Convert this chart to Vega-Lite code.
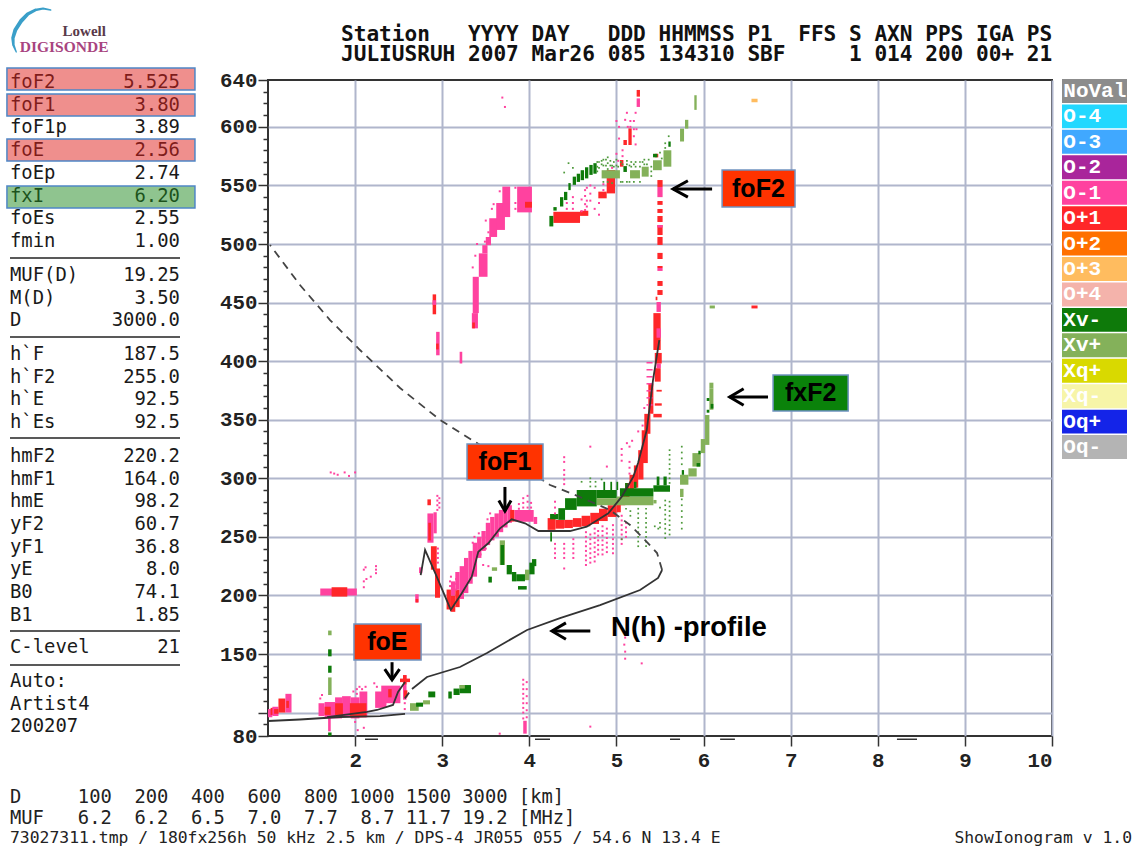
{"$schema":"https://vega.github.io/schema/vega-lite/v6.json","padding":0,"background":"white","columns":3,"spacing":0,"bounds":"flush","config":{"view":{"stroke":null},"axis":{"title":null}},
"datasets":{
"blocks":[
{"f":1.0,"f2":1.05,"h":96,"h2":103,"m":"O-1"},{"f":1.03,"f2":1.07,"h":98,"h2":104,"m":"O+1"},{"f":1.05,"f2":1.12,"h":97,"h2":105,"m":"O-1"},{"f":1.12,"f2":1.2,"h":100,"h2":112,"m":"O+1"},{"f":1.07,"f2":1.12,"h":99,"h2":103,"m":"O+1"},{"f":1.2,"f2":1.27,"h":100,"h2":116,"m":"O-1"},{"f":1.21,"f2":1.24,"h":104,"h2":110,"m":"O+1"},
{"f":1.58,"f2":1.65,"h":97,"h2":108,"m":"O-1"},{"f":1.65,"f2":1.77,"h":95,"h2":109,"m":"O-1"},{"f":1.77,"f2":1.85,"h":95,"h2":113,"m":"O-1"},{"f":1.85,"f2":1.95,"h":96,"h2":114,"m":"O-1"},{"f":1.95,"f2":2.05,"h":95,"h2":113,"m":"O-1"},{"f":2.05,"f2":2.14,"h":96,"h2":118,"m":"O-1"},{"f":1.65,"f2":1.72,"h":98,"h2":105,"m":"O+1"},{"f":1.77,"f2":1.86,"h":98,"h2":108,"m":"O+1"},{"f":1.94,"f2":2.13,"h":96,"h2":108,"m":"O+1"},{"f":1.69,"f2":1.72,"h":84,"h2":96,"m":"O-1"},
{"f":2.23,"f2":2.36,"h":104,"h2":118,"m":"O-1"},{"f":2.3,"f2":2.52,"h":108,"h2":123,"m":"O-1"},{"f":2.38,"f2":2.42,"h":113,"h2":120,"m":"O+1"},{"f":2.55,"f2":2.59,"h":111,"h2":132,"m":"O-1"},{"f":2.55,"f2":2.59,"h":124,"h2":132,"m":"O+1"},{"f":2.515,"f2":2.63,"h":126,"h2":129,"m":"O+1"},{"f":2.56,"f2":2.6,"h":113,"h2":119,"m":"O+1"},
{"f":2.69,"f2":2.73,"h":194,"h2":201,"m":"O-1"},{"f":2.695,"f2":2.725,"h":194,"h2":197,"m":"O+1"},
{"f":1.6,"f2":2.02,"h":200,"h2":206,"m":"O-1"},{"f":1.73,"f2":1.91,"h":199,"h2":207,"m":"O+1"},
{"f":2.89,"f2":2.93,"h":440,"h2":457,"m":"O+1"},{"f":2.89,"f2":2.93,"h":448,"h2":452,"m":"O-1"},{"f":2.93,"f2":2.97,"h":405,"h2":425,"m":"O-1"},{"f":2.93,"f2":2.96,"h":410,"h2":415,"m":"O+1"},{"f":3.2,"f2":3.23,"h":398,"h2":408,"m":"O-1"},
{"f":2.83,"f2":2.87,"h":277,"h2":282,"m":"O+1"},{"f":2.83,"f2":2.9,"h":245,"h2":270,"m":"O-1"},{"f":2.84,"f2":2.87,"h":247,"h2":262,"m":"O+1"},{"f":2.9,"f2":2.937,"h":253,"h2":271,"m":"O-1"},{"f":2.87,"f2":2.937,"h":222,"h2":242,"m":"O+1"},{"f":2.917,"f2":2.975,"h":198,"h2":223,"m":"O+1"},{"f":2.734,"f2":2.772,"h":219,"h2":224,"m":"O-1"},
{"f":3.05,"f2":3.1,"h":188,"h2":205,"m":"O+1"},{"f":3.1,"f2":3.15,"h":186,"h2":200,"m":"O+1"},{"f":3.1,"f2":3.15,"h":200,"h2":212,"m":"O-1"},{"f":3.15,"f2":3.2,"h":190,"h2":205,"m":"O+1"},{"f":3.15,"f2":3.2,"h":205,"h2":220,"m":"O-1"},{"f":3.2,"f2":3.25,"h":197,"h2":225,"m":"O-1"},{"f":3.25,"f2":3.3,"h":202,"h2":232,"m":"O-1"},{"f":3.3,"f2":3.35,"h":210,"h2":238,"m":"O-1"},{"f":3.35,"f2":3.4,"h":216,"h2":245,"m":"O-1"},{"f":3.4,"f2":3.45,"h":232,"h2":250,"m":"O-1"},{"f":3.45,"f2":3.5,"h":238,"h2":255,"m":"O-1"},{"f":3.5,"f2":3.55,"h":243,"h2":262,"m":"O-1"},{"f":3.55,"f2":3.6,"h":247,"h2":267,"m":"O-1"},{"f":3.6,"f2":3.65,"h":250,"h2":270,"m":"O-1"},{"f":3.65,"f2":3.7,"h":254,"h2":273,"m":"O-1"},{"f":3.7,"f2":3.75,"h":258,"h2":275,"m":"O-1"},{"f":3.75,"f2":3.8,"h":262,"h2":277,"m":"O-1"},{"f":3.78,"f2":3.83,"h":263,"h2":273,"m":"O+1"},{"f":3.83,"f2":4.05,"h":263,"h2":273,"m":"O-1"},{"f":4.05,"f2":4.09,"h":261,"h2":267,"m":"O-1"},
{"f":3.34,"f2":3.41,"h":428,"h2":441,"m":"O-1"},{"f":3.345,"f2":3.375,"h":428,"h2":433,"m":"O+1"},{"f":3.35,"f2":3.42,"h":441,"h2":472,"m":"O-1"},{"f":3.42,"f2":3.52,"h":472,"h2":492,"m":"O-1"},{"f":3.46,"f2":3.52,"h":492,"h2":499,"m":"O-1"},{"f":3.5,"f2":3.56,"h":499,"h2":506,"m":"O-1"},{"f":3.54,"f2":3.63,"h":506,"h2":522,"m":"O-1"},{"f":3.62,"f2":3.72,"h":512,"h2":535,"m":"O-1"},{"f":3.69,"f2":3.78,"h":523,"h2":549,"m":"O-1"},{"f":3.86,"f2":4.03,"h":527,"h2":549,"m":"O-1"},{"f":3.95,"f2":4.03,"h":531,"h2":536,"m":"O+1"},
{"f":4.21,"f2":4.3,"h":256,"h2":266,"m":"O+1"},{"f":4.3,"f2":4.4,"h":257,"h2":264.5,"m":"O+1"},{"f":4.4,"f2":4.5,"h":257.5,"h2":264.5,"m":"O+1"},{"f":4.5,"f2":4.6,"h":258.5,"h2":266,"m":"O+1"},{"f":4.6,"f2":4.7,"h":259,"h2":268,"m":"O+1"},{"f":4.7,"f2":4.8,"h":261,"h2":270.5,"m":"O+1"},{"f":4.8,"f2":4.9,"h":263.5,"h2":274,"m":"O+1"},{"f":4.9,"f2":5.0,"h":267,"h2":277,"m":"O+1"},{"f":5.0,"f2":5.05,"h":271,"h2":283,"m":"O+1"},{"f":5.05,"f2":5.1,"h":277,"h2":290,"m":"O+1"},{"f":5.1,"f2":5.15,"h":282,"h2":296,"m":"O+1"},{"f":5.15,"f2":5.2,"h":286,"h2":303,"m":"O+1"},{"f":5.2,"f2":5.25,"h":292,"h2":311,"m":"O+1"},{"f":5.25,"f2":5.31,"h":299,"h2":324,"m":"O+1"},{"f":5.29,"f2":5.36,"h":313,"h2":341,"m":"O+1"},{"f":5.32,"f2":5.39,"h":338,"h2":355,"m":"O+1"},{"f":5.366,"f2":5.424,"h":355,"h2":381,"m":"O+1"},
{"f":5.345,"f2":5.415,"h":362,"h2":363.3,"m":"O-1"},{"f":5.345,"f2":5.415,"h":368,"h2":369.3,"m":"O-1"},{"f":5.345,"f2":5.415,"h":374,"h2":375.3,"m":"O-1"},{"f":5.345,"f2":5.415,"h":380,"h2":381.3,"m":"O-1"},{"f":5.345,"f2":5.415,"h":386,"h2":387.3,"m":"O-1"},{"f":5.345,"f2":5.415,"h":392,"h2":393.3,"m":"O-1"},{"f":5.345,"f2":5.415,"h":398,"h2":399.3,"m":"O-1"},
{"f":5.424,"f2":5.52,"h":352,"h2":355,"m":"O+1"},{"f":5.44,"f2":5.52,"h":362,"h2":364,"m":"O+1"},{"f":5.46,"f2":5.52,"h":374,"h2":375.5,"m":"O+1"},{"f":5.44,"f2":5.508,"h":382.5,"h2":394,"m":"O+1"},{"f":5.46,"f2":5.51,"h":394,"h2":398,"m":"O-1"},{"f":5.44,"f2":5.52,"h":398,"h2":407,"m":"O+1"},{"f":5.424,"f2":5.508,"h":409.5,"h2":441,"m":"O+1"},{"f":5.46,"f2":5.51,"h":420,"h2":428,"m":"O-1"},
{"f":5.46,"f2":5.51,"h":442,"h2":450.5,"m":"O-1"},{"f":5.45,"f2":5.47,"h":452,"h2":455,"m":"O+1"},{"f":5.47,"f2":5.53,"h":456.5,"h2":460.7,"m":"O+1"},{"f":5.47,"f2":5.53,"h":464.2,"h2":468.4,"m":"O+1"},{"f":5.47,"f2":5.53,"h":477,"h2":479.5,"m":"O-1"},{"f":5.47,"f2":5.53,"h":479.5,"h2":481.2,"m":"O+1"},{"f":5.47,"f2":5.53,"h":487.2,"h2":492.4,"m":"O+1"},{"f":5.47,"f2":5.53,"h":499.2,"h2":506,"m":"O+1"},{"f":5.47,"f2":5.53,"h":507.7,"h2":516.2,"m":"O+1"},{"f":5.47,"f2":5.53,"h":514,"h2":516.2,"m":"O-1"},{"f":5.47,"f2":5.53,"h":518.8,"h2":523.9,"m":"O+1"},{"f":5.47,"f2":5.53,"h":526.5,"h2":529.9,"m":"O+1"},{"f":5.47,"f2":5.53,"h":533.4,"h2":536.7,"m":"O+1"},{"f":5.47,"f2":5.53,"h":540,"h2":548.7,"m":"O-1"},{"f":5.47,"f2":5.53,"h":548.7,"h2":554.6,"m":"O+1"},
{"f":4.276,"f2":4.582,"h":518,"h2":527.5,"m":"O+1"},{"f":4.582,"f2":4.677,"h":524,"h2":528.4,"m":"O+1"},{"f":4.792,"f2":4.888,"h":539,"h2":544.7,"m":"O+1"},{"f":4.888,"f2":4.984,"h":543.2,"h2":563.2,"m":"O+1"},{"f":5.04,"f2":5.08,"h":566,"h2":571.7,"m":"O+1"},{"f":5.08,"f2":5.12,"h":584.5,"h2":588.8,"m":"O+1"},{"f":5.137,"f2":5.175,"h":584.5,"h2":598.7,"m":"O+1"},{"f":5.232,"f2":5.27,"h":625.8,"h2":631.5,"m":"O+1"},{"f":5.232,"f2":5.27,"h":617,"h2":624.3,"m":"O-1"},{"f":5.44,"f2":5.48,"h":574,"h2":577,"m":"O+1"},
{"f":1.69,"f2":1.73,"h":166,"h2":170,"m":"Xv+"},{"f":1.69,"f2":1.73,"h":148,"h2":154,"m":"Xv-"},{"f":1.69,"f2":1.73,"h":134,"h2":140,"m":"Xv-"},{"f":1.69,"f2":1.73,"h":115,"h2":130,"m":"Xv+"},{"f":1.69,"f2":1.73,"h":80,"h2":83,"m":"Xv-"},
{"f":2.63,"f2":2.73,"h":101.5,"h2":108,"m":"Xv+"},{"f":2.7,"f2":2.78,"h":105,"h2":108.5,"m":"Xv-"},{"f":2.78,"f2":2.86,"h":107,"h2":110.5,"m":"Xv+"},{"f":2.84,"f2":2.92,"h":113,"h2":118,"m":"Xv-"},{"f":3.07,"f2":3.11,"h":112,"h2":118,"m":"Xv-"},{"f":3.13,"f2":3.2,"h":115,"h2":120.5,"m":"Xv-"},{"f":3.2,"f2":3.33,"h":116.5,"h2":123.5,"m":"Xv-"},{"f":3.2,"f2":3.26,"h":120.5,"h2":123.5,"m":"Xv+"},
{"f":3.66,"f2":3.72,"h":226,"h2":247,"m":"Xv+"},{"f":3.67,"f2":3.71,"h":226,"h2":243,"m":"Xv-"},{"f":3.53,"f2":3.57,"h":211,"h2":216,"m":"Xv-"},{"f":3.57,"f2":3.63,"h":221,"h2":224,"m":"Xv+"},{"f":3.74,"f2":3.8,"h":218,"h2":226,"m":"Xv-"},{"f":3.8,"f2":3.85,"h":212,"h2":220,"m":"Xv-"},{"f":3.85,"f2":3.95,"h":212,"h2":218,"m":"Xv-"},{"f":3.87,"f2":3.97,"h":205,"h2":208,"m":"Xv-"},{"f":3.95,"f2":4.0,"h":213,"h2":222,"m":"Xv+"},{"f":4.0,"f2":4.06,"h":218,"h2":228,"m":"Xv-"},{"f":4.03,"f2":4.08,"h":225,"h2":231,"m":"Xv-"},
{"f":4.23,"f2":4.275,"h":515,"h2":524,"m":"Xv-"},{"f":4.276,"f2":4.314,"h":528.5,"h2":531.5,"m":"Xv-"},{"f":4.352,"f2":4.39,"h":532,"h2":540,"m":"Xv-"},{"f":4.398,"f2":4.436,"h":537.5,"h2":544.5,"m":"Xv-"},{"f":4.448,"f2":4.475,"h":546,"h2":552,"m":"Xv-"},{"f":4.498,"f2":4.536,"h":550.5,"h2":557.5,"m":"Xv-"},{"f":4.544,"f2":4.582,"h":553,"h2":560,"m":"Xv-"},{"f":4.589,"f2":4.628,"h":554.5,"h2":563,"m":"Xv-"},{"f":4.639,"f2":4.677,"h":556,"h2":565.5,"m":"Xv-"},{"f":4.689,"f2":4.727,"h":559,"h2":567.5,"m":"Xv-"},{"f":4.735,"f2":4.773,"h":560,"h2":569,"m":"Xv-"},{"f":4.83,"f2":5.04,"h":556,"h2":563,"m":"Xv+"},{"f":5.08,"f2":5.12,"h":561.5,"h2":566.5,"m":"Xv-"},{"f":5.156,"f2":5.27,"h":556,"h2":563,"m":"Xv+"},{"f":5.29,"f2":5.37,"h":557.5,"h2":566,"m":"Xv+"},{"f":5.42,"f2":5.52,"h":563,"h2":571.5,"m":"Xv+"},{"f":5.42,"f2":5.47,"h":574,"h2":577,"m":"Xv-"},{"f":5.54,"f2":5.63,"h":566,"h2":580,"m":"Xv+"},{"f":5.596,"f2":5.623,"h":583,"h2":587.5,"m":"Xv-"},{"f":5.73,"f2":5.776,"h":587.5,"h2":598.5,"m":"Xv+"},{"f":5.787,"f2":5.825,"h":598.5,"h2":606,"m":"Xv+"},{"f":5.894,"f2":5.921,"h":614.5,"h2":627,"m":"Xv+"},
{"f":4.24,"f2":4.26,"h":246,"h2":254,"m":"Xv-"},{"f":4.238,"f2":4.333,"h":265,"h2":269.5,"m":"Xv-"},{"f":4.333,"f2":4.41,"h":264.5,"h2":274.5,"m":"Xv-"},{"f":4.41,"f2":4.544,"h":273,"h2":283,"m":"Xv-"},{"f":4.544,"f2":4.774,"h":276,"h2":290,"m":"Xv-"},{"f":4.774,"f2":5.003,"h":283,"h2":290,"m":"Xv-"},{"f":4.774,"f2":5.003,"h":277,"h2":283,"m":"Xv+"},{"f":5.003,"f2":5.424,"h":277,"h2":284.5,"m":"Xv+"},{"f":5.04,"f2":5.424,"h":284.5,"h2":291.5,"m":"Xv-"},{"f":5.424,"f2":5.615,"h":288.5,"h2":294,"m":"Xv-"},{"f":5.462,"f2":5.493,"h":294,"h2":301.5,"m":"Xv-"},{"f":5.54,"f2":5.577,"h":294,"h2":301.5,"m":"Xv-"},{"f":5.424,"f2":5.46,"h":278.5,"h2":281.5,"m":"Xv+"},
{"f":5.1,"f2":5.13,"h":291.5,"h2":296,"m":"Xv-"},{"f":5.2,"f2":5.23,"h":291.5,"h2":297,"m":"Xv-"},{"f":4.85,"f2":4.87,"h":290,"h2":297,"m":"Xv-"},{"f":4.93,"f2":4.95,"h":290,"h2":297,"m":"Xv-"},{"f":5.0,"f2":5.02,"h":290,"h2":297,"m":"Xv-"},
{"f":5.73,"f2":5.826,"h":294.5,"h2":303,"m":"Xv+"},{"f":5.826,"f2":5.921,"h":301.5,"h2":308.5,"m":"Xv+"},{"f":5.872,"f2":5.968,"h":310,"h2":321.5,"m":"Xv+"},{"f":5.968,"f2":6.017,"h":321.5,"h2":333.5,"m":"Xv+"},{"f":6.017,"f2":6.067,"h":328.5,"h2":354,"m":"Xv+"},{"f":6.067,"f2":6.113,"h":358.5,"h2":376.8,"m":"Xv+"},{"f":6.067,"f2":6.113,"h":376.8,"h2":381.6,"m":"Xv+"},{"f":5.73,"f2":5.77,"h":284,"h2":291,"m":"Xv+"},{"f":5.75,"f2":5.776,"h":303,"h2":307,"m":"Xv-"},{"f":5.94,"f2":5.967,"h":320.5,"h2":323.5,"m":"Xv-"},{"f":5.92,"f2":5.96,"h":310,"h2":313,"m":"Xv-"},{"f":6.036,"f2":6.067,"h":356,"h2":358.5,"m":"Xv-"},{"f":6.036,"f2":6.067,"h":366,"h2":368.5,"m":"Xv-"},{"f":6.082,"f2":6.113,"h":359.5,"h2":363.5,"m":"Xv-"},
{"f":6.55,"f2":6.62,"h":621,"h2":624,"m":"O+3"},{"f":6.07,"f2":6.13,"h":445,"h2":447.5,"m":"Xv+"},{"f":6.55,"f2":6.62,"h":445,"h2":447.5,"m":"O+1"},
{"f":3.93,"f2":3.97,"h":82,"h2":93,"m":"O-1"}
],
"dots":[
{"f":4.295,"h":270},{"f":4.295,"h":275},{"f":4.295,"h":280},{"f":4.295,"h":232},{"f":4.295,"h":236},{"f":4.295,"h":240},{"f":4.295,"h":244},
{"f":4.4,"h":314},{"f":4.4,"h":318},{"f":4.4,"h":295},{"f":4.4,"h":299},{"f":4.4,"h":303},{"f":4.4,"h":307},{"f":4.4,"h":232},{"f":4.4,"h":236},{"f":4.4,"h":240},{"f":4.4,"h":244},{"f":4.4,"h":223},
{"f":4.505,"h":232},{"f":4.505,"h":236},{"f":4.505,"h":240},{"f":4.505,"h":244},{"f":4.505,"h":248},
{"f":4.65,"h":226},{"f":4.65,"h":230},{"f":4.65,"h":234},{"f":4.65,"h":238},{"f":4.65,"h":242},{"f":4.65,"h":246},{"f":4.65,"h":250},{"f":4.65,"h":254},
{"f":4.7,"h":228},{"f":4.7,"h":232},{"f":4.7,"h":236},{"f":4.7,"h":240},{"f":4.7,"h":244},{"f":4.7,"h":248},{"f":4.7,"h":252},{"f":4.7,"h":327},
{"f":4.75,"h":229},{"f":4.75,"h":233},{"f":4.75,"h":237},{"f":4.75,"h":241},{"f":4.75,"h":245},{"f":4.75,"h":249},{"f":4.75,"h":253},{"f":4.75,"h":257},
{"f":4.79,"h":235},{"f":4.79,"h":239},{"f":4.79,"h":243},{"f":4.79,"h":247},{"f":4.79,"h":251},{"f":4.79,"h":255},
{"f":4.84,"h":235},{"f":4.84,"h":239},{"f":4.84,"h":243},{"f":4.84,"h":247},{"f":4.84,"h":251},{"f":4.84,"h":255},{"f":4.84,"h":259},
{"f":4.89,"h":237},{"f":4.89,"h":241},{"f":4.89,"h":245},{"f":4.89,"h":249},{"f":4.89,"h":253},{"f":4.89,"h":257},{"f":4.89,"h":310},
{"f":4.96,"h":236},{"f":4.96,"h":240},{"f":4.96,"h":244},{"f":4.96,"h":248},{"f":4.96,"h":252},{"f":4.96,"h":256},{"f":4.96,"h":260},
{"f":5.06,"h":244},{"f":5.06,"h":248},{"f":5.06,"h":252},{"f":5.06,"h":256},{"f":5.06,"h":260},{"f":5.06,"h":264},{"f":5.06,"h":268},{"f":5.06,"h":315},{"f":5.06,"h":320},{"f":5.06,"h":325},
{"f":5.11,"h":250},{"f":5.11,"h":254},{"f":5.11,"h":258},{"f":5.11,"h":262},{"f":5.15,"h":304},{"f":5.15,"h":309},{"f":5.15,"h":314},{"f":5.15,"h":327},{"f":5.12,"h":330},
{"f":3.09,"h":212},{"f":3.09,"h":208},{"f":3.1,"h":216},{"f":3.16,"h":205},{"f":3.16,"h":210},{"f":3.16,"h":214},{"f":3.44,"h":235},{"f":3.5,"h":240},{"f":3.53,"h":225},{"f":3.47,"h":226},{"f":3.37,"h":250},{"f":3.42,"h":253},{"f":3.35,"h":245},{"f":3.55,"h":270},{"f":3.52,"h":265},
{"f":2.944,"h":273},{"f":2.944,"h":277},{"f":2.944,"h":281},{"f":2.944,"h":285},{"f":2.967,"h":275},{"f":2.967,"h":279},{"f":2.967,"h":283},{"f":2.95,"h":228},{"f":2.95,"h":232},{"f":2.95,"h":236},{"f":2.95,"h":240},
{"f":3.88,"h":274},{"f":3.88,"h":278},{"f":3.93,"h":275},{"f":3.93,"h":279},{"f":3.93,"h":283},{"f":3.98,"h":275},{"f":3.98,"h":280},{"f":3.98,"h":285},{"f":4.02,"h":275},{"f":4.02,"h":279},
{"f":1.72,"h":305},{"f":1.76,"h":304},{"f":1.8,"h":303},{"f":1.88,"h":305},{"f":1.93,"h":302},{"f":2.0,"h":305},{"f":2.1,"h":222},{"f":2.13,"h":214},{"f":2.1,"h":212},{"f":2.18,"h":216},{"f":2.1,"h":207},{"f":2.24,"h":219},{"f":2.24,"h":222},{"f":2.24,"h":225},{"f":2.12,"h":224},
{"f":3.93,"h":95},{"f":3.93,"h":100},{"f":3.93,"h":104},{"f":3.93,"h":108},{"f":3.93,"h":112},{"f":3.93,"h":116},{"f":3.93,"h":120},{"f":3.93,"h":124},{"f":3.93,"h":128},{"f":3.97,"h":96},{"f":3.97,"h":102},{"f":3.97,"h":108},{"f":3.97,"h":114},{"f":3.97,"h":120},{"f":3.97,"h":126},{"f":3.66,"h":82},
{"f":4.7,"h":88},{"f":5.29,"h":142},{"f":5.1,"h":146},{"f":5.1,"h":152},{"f":5.09,"h":158},{"f":5.1,"h":164},
{"f":2.02,"h":120},{"f":2.05,"h":122},{"f":2.08,"h":120},{"f":1.98,"h":118},{"f":2.12,"h":122},{"f":2.02,"h":116},{"f":2.08,"h":116},{"f":2.03,"h":85},{"f":2.1,"h":87},{"f":2.0,"h":92},{"f":1.6,"h":112},{"f":1.62,"h":115},{"f":2.22,"h":125},{"f":2.25,"h":122},{"f":2.57,"h":103},{"f":2.57,"h":108},
{"f":3.72,"h":617},{"f":3.69,"h":625},{"f":5.02,"h":571},{"f":5.0,"h":577},{"f":5.03,"h":590},{"f":5.0,"h":605},{"f":5.03,"h":600},{"f":5.1,"h":606},{"f":5.12,"h":612},{"f":5.16,"h":605},{"f":5.16,"h":600},{"f":5.22,"h":612},{"f":5.2,"h":592},{"f":5.23,"h":598},{"f":4.66,"h":537},{"f":4.66,"h":532},{"f":4.66,"h":548},{"f":4.7,"h":543},{"f":4.7,"h":537},{"f":4.7,"h":550},{"f":4.75,"h":548},{"f":4.75,"h":530},{"f":4.8,"h":525},{"f":4.8,"h":535},{"f":4.6,"h":528},{"f":4.6,"h":538},{"f":5.32,"h":360},{"f":5.3,"h":345},{"f":5.25,"h":340},{"f":5.18,"h":332},
{"f":3.5,"h":520},{"f":3.53,"h":510},{"f":3.57,"h":530},{"f":3.66,"h":545},{"f":3.35,"h":480},{"f":3.38,"h":490},{"f":3.4,"h":500},{"f":3.49,"h":502},{"f":3.59,"h":534},{"f":3.84,"h":548},{"f":3.84,"h":535},{"f":3.84,"h":530},
{"f":4.64,"h":529},{"f":4.64,"h":534},{"f":4.64,"h":541},{"f":4.64,"h":546},{"f":4.5,"h":530},{"f":4.5,"h":535},{"f":4.5,"h":540},{"f":4.43,"h":530},{"f":4.43,"h":535},{"f":4.85,"h":546},{"f":4.85,"h":551},{"f":4.95,"h":565},{"f":5.07,"h":575},{"f":5.07,"h":580},{"f":5.13,"h":600},{"f":5.2,"h":605},{"f":5.2,"h":598},{"f":5.22,"h":585}
],
"gdots":[
{"f":4.6,"h":297},{"f":4.7,"h":293},{"f":4.7,"h":297},{"f":4.7,"h":300},{"f":4.76,"h":293},{"f":4.76,"h":297},{"f":4.83,"h":299},{"f":5.5,"h":275},
{"f":5.11,"h":274},{"f":5.16,"h":272},{"f":5.16,"h":268},{"f":5.06,"h":248},
{"f":5.25,"h":274},{"f":5.25,"h":270},{"f":5.25,"h":266},{"f":5.25,"h":262},{"f":5.25,"h":258},{"f":5.25,"h":254},{"f":5.25,"h":250},{"f":5.25,"h":246},{"f":5.25,"h":242},
{"f":5.34,"h":274},{"f":5.34,"h":270},{"f":5.34,"h":266},{"f":5.34,"h":262},{"f":5.34,"h":258},{"f":5.34,"h":254},{"f":5.34,"h":250},{"f":5.34,"h":246},{"f":5.34,"h":242},
{"f":5.44,"h":259},{"f":5.48,"h":257},{"f":5.5,"h":262},{"f":5.5,"h":258},
{"f":5.56,"h":281},{"f":5.56,"h":277},{"f":5.56,"h":273},{"f":5.56,"h":269},{"f":5.56,"h":265},{"f":5.56,"h":261},{"f":5.56,"h":257},{"f":5.56,"h":253},{"f":5.56,"h":249},
{"f":5.61,"h":296},{"f":5.61,"h":300},{"f":5.61,"h":304},{"f":5.61,"h":308},{"f":5.61,"h":312},{"f":5.61,"h":316},{"f":5.61,"h":320},{"f":5.61,"h":324},{"f":5.61,"h":280},{"f":5.61,"h":276},{"f":5.61,"h":272},{"f":5.61,"h":268},{"f":5.61,"h":264},{"f":5.61,"h":260},{"f":5.61,"h":256},{"f":5.61,"h":252},
{"f":5.75,"h":257},{"f":5.75,"h":262},{"f":5.75,"h":267},{"f":5.75,"h":272},{"f":5.75,"h":277},{"f":5.75,"h":282},{"f":5.75,"h":312},{"f":5.75,"h":317},{"f":5.75,"h":322},{"f":5.75,"h":327},
{"f":4.4,"h":561},{"f":4.45,"h":569},{"f":4.5,"h":565},{"f":4.8,"h":570},{"f":4.8,"h":565},{"f":4.85,"h":572},{"f":4.85,"h":567},{"f":4.85,"h":553},{"f":4.9,"h":574},{"f":4.9,"h":569},{"f":4.9,"h":564},{"f":4.9,"h":553},{"f":4.95,"h":567},{"f":4.95,"h":552},{"f":5.0,"h":567},{"f":5.0,"h":572},{"f":5.05,"h":570},{"f":5.05,"h":553},{"f":5.15,"h":567},{"f":5.15,"h":553},{"f":5.2,"h":568},{"f":5.2,"h":553},{"f":5.3,"h":570},{"f":5.35,"h":568},{"f":5.56,"h":586},{"f":5.56,"h":582},{"f":5.6,"h":592},{"f":5.5,"h":578},{"f":5.52,"h":573},
{"f":4.78,"h":566},{"f":4.78,"h":562},{"f":4.78,"h":570},{"f":4.83,"h":568},{"f":4.83,"h":571},{"f":4.88,"h":567},{"f":4.88,"h":572},{"f":4.93,"h":567},{"f":4.93,"h":571},{"f":4.97,"h":570},{"f":4.97,"h":566},{"f":5.02,"h":566},{"f":5.07,"h":568},{"f":5.07,"h":553},{"f":5.12,"h":568},{"f":5.12,"h":571},{"f":5.12,"h":553},{"f":5.17,"h":570},{"f":5.17,"h":566},{"f":5.22,"h":570},{"f":5.22,"h":566},{"f":5.27,"h":566},{"f":5.27,"h":570},{"f":5.27,"h":553},{"f":5.32,"h":572},{"f":5.32,"h":568},{"f":5.37,"h":572},{"f":5.4,"h":566},{"f":5.4,"h":562},{"f":5.4,"h":558}
],
"curves":[
{"s":"a","o":0,"f":1.0,"h":92.8},{"s":"a","o":1,"f":1.367,"h":94.1},{"s":"a","o":2,"f":1.827,"h":96.2},{"s":"a","o":3,"f":2.286,"h":97},{"s":"a","o":4,"f":2.573,"h":98.8},
{"s":"b","o":0,"f":1.677,"h":96.2},{"s":"b","o":1,"f":2.137,"h":100.5},{"s":"b","o":2,"f":2.251,"h":102.2},{"s":"b","o":3,"f":2.435,"h":106.5},{"s":"b","o":4,"f":2.493,"h":117.6},{"s":"b","o":5,"f":2.573,"h":126.1},
{"s":"c","o":0,"f":2.57,"h":112},{"s":"c","o":1,"f":2.62,"h":117},
{"s":"d","o":0,"f":2.653,"h":120.1},{"s":"d","o":1,"f":2.825,"h":130.4},{"s":"d","o":2,"f":3.204,"h":138.9},{"s":"d","o":3,"f":3.514,"h":150.9},{"s":"d","o":4,"f":3.974,"h":170.5},{"s":"d","o":5,"f":4.352,"h":180.7},{"s":"d","o":6,"f":4.812,"h":191.8},{"s":"d","o":7,"f":5.271,"h":204.6},{"s":"d","o":8,"f":5.478,"h":214.9},{"s":"d","o":9,"f":5.524,"h":221.7},
{"s":"e","o":0,"f":2.753,"h":217.4},{"s":"e","o":1,"f":2.803,"h":238.8},{"s":"e","o":2,"f":2.937,"h":216},{"s":"e","o":3,"f":3.098,"h":187.6},{"s":"e","o":4,"f":3.224,"h":201.8},{"s":"e","o":5,"f":3.339,"h":216},{"s":"e","o":6,"f":3.414,"h":237.3},{"s":"e","o":7,"f":3.529,"h":244.5},{"s":"e","o":8,"f":3.664,"h":257.3},{"s":"e","o":9,"f":3.798,"h":265},{"s":"e","o":10,"f":3.951,"h":261.6},{"s":"e","o":11,"f":4.104,"h":255},{"s":"e","o":12,"f":4.467,"h":255},{"s":"e","o":13,"f":4.659,"h":258.7},{"s":"e","o":14,"f":4.907,"h":270.1},{"s":"e","o":15,"f":5.061,"h":284.3},{"s":"e","o":16,"f":5.194,"h":301.4},{"s":"e","o":17,"f":5.248,"h":313},{"s":"e","o":18,"f":5.348,"h":341.2},{"s":"e","o":19,"f":5.42,"h":383.9},{"s":"e","o":20,"f":5.492,"h":418}
],
"dashed":[
{"o":0,"f":5.524,"h":221.7},{"o":1,"f":5.466,"h":236.2},{"o":2,"f":5.328,"h":247.3},{"o":3,"f":5.156,"h":260.1},{"o":4,"f":4.927,"h":272.9},{"o":5,"f":4.582,"h":284},{"o":6,"f":4.238,"h":294.3},{"o":7,"f":3.893,"h":311.3},{"o":8,"f":3.434,"h":328.4},{"o":9,"f":2.975,"h":349.8},{"o":10,"f":2.516,"h":377.1},{"o":11,"f":2.056,"h":409.5},{"o":12,"f":1.712,"h":435.1},{"o":13,"f":1.367,"h":465},{"o":14,"f":1.023,"h":499.2}
],
"arrows":[
{"a":"1s","o":0,"f":6.098,"h":547},{"a":"1s","o":1,"f":5.65,"h":547},{"a":"1c","o":0,"f":5.82,"h":554},{"a":"1c","o":1,"f":5.65,"h":547},{"a":"1c","o":2,"f":5.82,"h":540},
{"a":"2s","o":0,"f":6.74,"h":369.4},{"a":"2s","o":1,"f":6.3,"h":369.4},{"a":"2c","o":0,"f":6.46,"h":376.4},{"a":"2c","o":1,"f":6.3,"h":369.4},{"a":"2c","o":2,"f":6.46,"h":362.4},
{"a":"3s","o":0,"f":3.72,"h":292.6},{"a":"3s","o":1,"f":3.72,"h":272},{"a":"3c","o":0,"f":3.65,"h":281},{"a":"3c","o":1,"f":3.72,"h":272},{"a":"3c","o":2,"f":3.79,"h":281},
{"a":"4s","o":0,"f":2.424,"h":143},{"a":"4s","o":1,"f":2.424,"h":128},{"a":"4c","o":0,"f":2.34,"h":137},{"a":"4c","o":1,"f":2.424,"h":128},{"a":"4c","o":2,"f":2.51,"h":137},
{"a":"5s","o":0,"f":4.7,"h":169.6},{"a":"5s","o":1,"f":4.26,"h":169.6},{"a":"5c","o":0,"f":4.42,"h":176.6},{"a":"5c","o":1,"f":4.26,"h":169.6},{"a":"5c","o":2,"f":4.42,"h":162.6}
],
"boxes":[
{"t":"foF2","k":"r","f":6.213,"f2":7.05,"h":531.6,"h2":563.2,"fc":6.63,"hc":547},
{"t":"fxF2","k":"g","f":6.798,"f2":7.66,"h":357.4,"h2":388.2,"fc":7.23,"hc":373},
{"t":"foF1","k":"r","f":3.285,"f2":4.157,"h":298.5,"h2":329.3,"fc":3.72,"hc":314},
{"t":"foE","k":"r","f":1.987,"f2":2.757,"h":144.9,"h2":175.6,"fc":2.37,"hc":160}
],
"dashes":[{"f":2.114,"f2":2.263},{"f":4.065,"f2":4.237},{"f":5.615,"f2":5.73},{"f":6.19,"f2":6.36},{"f":8.22,"f2":8.45}],
"table":[
{"r":0,"a":"foF2","b":"5.525"},{"r":1,"a":"foF1","b":"3.80"},{"r":2,"a":"foF1p","b":"3.89"},{"r":3,"a":"foE","b":"2.56"},{"r":4,"a":"foEp","b":"2.74"},{"r":5,"a":"fxI","b":"6.20"},{"r":6,"a":"foEs","b":"2.55"},{"r":7,"a":"fmin","b":"1.00"},
{"r":8.5,"a":"MUF(D)","b":"19.25"},{"r":9.5,"a":"M(D)","b":"3.50"},{"r":10.5,"a":"D","b":"3000.0"},
{"r":11.98,"a":"h`F","b":"187.5"},{"r":12.98,"a":"h`F2","b":"255.0"},{"r":13.98,"a":"h`E","b":"92.5"},{"r":14.98,"a":"h`Es","b":"92.5"},
{"r":16.47,"a":"hmF2","b":"220.2"},{"r":17.47,"a":"hmF1","b":"164.0"},{"r":18.47,"a":"hmE","b":"98.2"},{"r":19.47,"a":"yF2","b":"60.7"},{"r":20.47,"a":"yF1","b":"36.8"},{"r":21.47,"a":"yE","b":"8.0"},{"r":22.47,"a":"B0","b":"74.1"},{"r":23.47,"a":"B1","b":"1.85"},
{"r":24.9,"a":"C-level","b":"21"},{"r":26.39,"a":"Auto:","b":""},{"r":27.39,"a":"Artist4","b":""},{"r":28.39,"a":"200207","b":""}
],
"seps":[{"r":7.75},{"r":11.23},{"r":15.68},{"r":24.18},{"r":25.68}],
"hilite":[{"r":-0.62,"r2":0.35,"k":"r"},{"r":0.53,"r2":1.5,"k":"r"},{"r":2.51,"r2":3.48,"k":"r"},{"r":4.58,"r2":5.55,"k":"g"}],
"modes":[{"m":"NoVal"},{"m":"O-4"},{"m":"O-3"},{"m":"O-2"},{"m":"O-1"},{"m":"O+1"},{"m":"O+2"},{"m":"O+3"},{"m":"O+4"},{"m":"Xv-"},{"m":"Xv+"},{"m":"Xq+"},{"m":"Xq-"},{"m":"Oq+"},{"m":"Oq-"}],
"header":[{"r":0,"t":"Station\u00a0\u00a0\u00a0YYYY DAY\u00a0\u00a0\u00a0DDD HHMMSS P1\u00a0\u00a0FFS S AXN PPS IGA PS"},{"r":1,"t":"JULIUSRUH 2007 Mar26 085 134310 SBF\u00a0\u00a0\u00a0\u00a0\u00a01 014 200 00+ 21"}],
"crescent":[{"o":0,"x":53,"y":10,"w":0.5},{"o":1,"x":45,"y":8.5,"w":2},{"o":2,"x":37,"y":10,"w":3},{"o":3,"x":29,"y":14,"w":4},{"o":4,"x":22,"y":21,"w":5},{"o":5,"x":16,"y":30,"w":5},{"o":6,"x":13.5,"y":38,"w":4},{"o":7,"x":14,"y":45,"w":2.5},{"o":8,"x":17,"y":52,"w":0.5}],
"logotext":[{"t":"Lowell","x":88,"y":31},{"t":"DIGISONDE","x":67,"y":47}],
"footer":[{"r":0,"t":"D\u00a0\u00a0\u00a0\u00a0\u00a0100\u00a0\u00a0200\u00a0\u00a0400\u00a0\u00a0600\u00a0\u00a0800 1000 1500 3000 [km]"},{"r":1,"t":"MUF\u00a0\u00a0\u00a06.2\u00a0\u00a06.2\u00a0\u00a06.5\u00a0\u00a07.0\u00a0\u00a07.7\u00a0\u00a08.7 11.7 19.2 [MHz]"}]
},
"concat":[
{"width":268,"height":80,"layer":[
{"data":{"name":"crescent"},"mark":{"type":"trail","color":"#3a9fc9"},"encoding":{"x":{"field":"x","type":"quantitative","scale":{"domain":[0,268],"range":[0,268]},"axis":null},"y":{"field":"y","type":"quantitative","scale":{"domain":[0,80],"range":[0,80]},"axis":null},"order":{"field":"o"},"size":{"field":"w","type":"quantitative","legend":null,"scale":{"type":"identity"}}}},
{"data":{"name":"logotext"},"transform":[{"filter":"datum.t==='Lowell'"}],"mark":{"type":"text","font":"Liberation Serif","fontWeight":"bold","fontSize":15,"color":"#5a3a4a","baseline":"middle"},"encoding":{"x":{"field":"x","type":"quantitative"},"y":{"field":"y","type":"quantitative"},"text":{"field":"t"}}},
{"data":{"name":"logotext"},"transform":[{"filter":"datum.t!=='Lowell'"}],"mark":{"type":"text","font":"Liberation Serif","fontWeight":"bold","fontSize":15.5,"color":"#a8447f","baseline":"middle"},"encoding":{"x":{"field":"x","type":"quantitative"},"y":{"field":"y","type":"quantitative"},"text":{"field":"t"}}}
]},
{"width":784,"height":80,"data":{"name":"header"},"mark":{"type":"text","align":"left","baseline":"middle","font":"DejaVu Sans Mono","fontWeight":"bold","fontSize":21.1,"color":"#111"},"encoding":{"x":{"datum":0,"type":"quantitative","scale":{"domain":[0,1],"range":[73,784]},"axis":null},"y":{"field":"r","type":"quantitative","scale":{"domain":[0,1],"range":[35,55]},"axis":null},"text":{"field":"t"}}},
{"width":86,"height":80,"data":{"values":[{"a":""}]},"mark":{"type":"text"},"encoding":{"text":{"field":"a"}}},
{"width":268,"height":656,"layer":[
{"data":{"name":"table"},"mark":{"type":"text","align":"left","baseline":"middle","font":"DejaVu Sans Mono","fontSize":18.9,"color":"#1a1a1a"},"encoding":{"x":{"datum":0,"type":"quantitative","scale":{"domain":[0,1],"range":[10,180]},"axis":null},"y":{"field":"r","type":"quantitative","scale":{"domain":[-0.088,28.81],"nice":false,"zero":false,"reverse":true},"axis":null},"text":{"field":"a"}}},
{"data":{"name":"table"},"mark":{"type":"text","align":"right","baseline":"middle","font":"DejaVu Sans Mono","fontSize":18.9,"color":"#1a1a1a"},"encoding":{"x":{"datum":1,"type":"quantitative"},"y":{"field":"r","type":"quantitative"},"text":{"field":"b"}}},
{"data":{"name":"seps"},"mark":{"type":"rule","color":"#222","strokeWidth":1.5},"encoding":{"x":{"datum":0,"type":"quantitative"},"x2":{"datum":1},"y":{"field":"r","type":"quantitative"}}},
{"data":{"name":"hilite"},"transform":[{"filter":"datum.k==='r'"}],"mark":{"type":"rect","fill":"#e0201c","fillOpacity":0.5,"stroke":"#4f86c6","strokeWidth":1.5},"encoding":{"x":{"datum":-0.018,"type":"quantitative"},"x2":{"datum":1.088},"y":{"field":"r","type":"quantitative"},"y2":{"field":"r2"}}},
{"data":{"name":"hilite"},"transform":[{"filter":"datum.k==='g'"}],"mark":{"type":"rect","fill":"#1f8a1f","fillOpacity":0.5,"stroke":"#4f86c6","strokeWidth":1.5},"encoding":{"x":{"datum":-0.018,"type":"quantitative"},"x2":{"datum":1.088},"y":{"field":"r","type":"quantitative"},"y2":{"field":"r2"}}}
]},
{"width":784,"height":656,"view":{"stroke":"#333","strokeWidth":2},"layer":[
{"data":{"name":"blocks"},"mark":{"type":"rect"},"encoding":{
"x":{"field":"f","type":"quantitative","scale":{"domain":[1,10],"nice":false,"zero":false},"axis":{"values":[2,3,4,5,6,7,8,9,10],"grid":true,"gridColor":"#b0b6cc","gridWidth":2,"domain":false,"tickColor":"#333","tickSize":10,"tickWidth":1.5,"labelFont":"Liberation Mono","labelFontWeight":"bold","labelFontSize":20.8,"labelColor":"#222","labelPadding":4,"format":"d"}},
"x2":{"field":"f2"},
"y":{"field":"h","type":"quantitative","scale":{"domain":[80,640],"nice":false,"zero":false},"axis":{"tickCount":60,"values":[80,90,100,110,120,130,140,150,160,170,180,190,200,210,220,230,240,250,260,270,280,290,300,310,320,330,340,350,360,370,380,390,400,410,420,430,440,450,460,470,480,490,500,510,520,530,540,550,560,570,580,590,600,610,620,630,640],"grid":true,"gridColor":"#b0b6cc","gridWidth":2,"gridOpacity":{"condition":{"test":"datum.value%50===0","value":1},"value":0},"domain":false,"tickColor":"#333","tickWidth":1.5,"tickSize":{"condition":{"test":"datum.value%50===0||datum.value===80||datum.value===640","value":10},"value":5},"labelFont":"Liberation Mono","labelFontWeight":"bold","labelFontSize":20.8,"labelColor":"#222","labelPadding":1,"labelExpr":"(datum.value%50===0&&datum.value!==100)||datum.value===80||datum.value===640?datum.label:''","labelOverlap":false}},
"y2":{"field":"h2"},
"color":{"field":"m","type":"nominal","legend":null,"scale":{"domain":["NoVal","O-4","O-3","O-2","O-1","O+1","O+2","O+3","O+4","Xv-","Xv+","Xq+","Xq-","Oq+","Oq-"],"range":["#8c8c8c","#22d8ff","#40a8ff","#a9259b","#ff429f","#ff2729","#ff7000","#ffbc5f","#f4b3ab","#0e7a0a","#84b15a","#d9d900","#f7f5a8","#1424e8","#b4b4b4"]}}}},
{"data":{"name":"dots"},"mark":{"type":"point","shape":"square","filled":true,"size":4,"color":"#ff429f","opacity":1},"encoding":{"x":{"field":"f","type":"quantitative"},"y":{"field":"h","type":"quantitative"}}},
{"data":{"name":"gdots"},"mark":{"type":"point","shape":"square","filled":true,"size":3,"color":"#4f9a3c","opacity":1},"encoding":{"x":{"field":"f","type":"quantitative"},"y":{"field":"h","type":"quantitative"}}},
{"data":{"name":"curves"},"mark":{"type":"line","color":"#333","strokeWidth":1.8},"encoding":{"x":{"field":"f","type":"quantitative"},"y":{"field":"h","type":"quantitative"},"detail":{"field":"s"},"order":{"field":"o"}}},
{"data":{"name":"dashed"},"mark":{"type":"line","color":"#444","strokeWidth":1.8,"strokeDash":[8,6]},"encoding":{"x":{"field":"f","type":"quantitative"},"y":{"field":"h","type":"quantitative"},"order":{"field":"o"}}},
{"data":{"name":"dashes"},"mark":{"type":"rule","color":"#333","strokeWidth":1.5,"clip":false},"encoding":{"x":{"field":"f","type":"quantitative"},"x2":{"field":"f2"},"y":{"datum":77.2,"type":"quantitative"}}},
{"data":{"name":"boxes"},"transform":[{"filter":"datum.k==='r'"}],"mark":{"type":"rect","fill":"#ff3300","stroke":"#6f93c0","strokeWidth":1.5},"encoding":{"x":{"field":"f","type":"quantitative"},"x2":{"field":"f2"},"y":{"field":"h","type":"quantitative"},"y2":{"field":"h2"}}},
{"data":{"name":"boxes"},"transform":[{"filter":"datum.k==='g'"}],"mark":{"type":"rect","fill":"#0a820a","stroke":"#6f93c0","strokeWidth":1.5},"encoding":{"x":{"field":"f","type":"quantitative"},"x2":{"field":"f2"},"y":{"field":"h","type":"quantitative"},"y2":{"field":"h2"}}},
{"data":{"name":"boxes"},"mark":{"type":"text","font":"Liberation Sans","fontWeight":"bold","fontSize":25,"color":"#000","baseline":"middle"},"encoding":{"x":{"field":"fc","type":"quantitative"},"y":{"field":"hc","type":"quantitative"},"text":{"field":"t"}}},
{"data":{"values":[{"t":"N(h) -profile","f":4.938,"h":172}]},"mark":{"type":"text","font":"Liberation Sans","fontWeight":"bold","fontSize":27.5,"color":"#000","align":"left","baseline":"middle"},"encoding":{"x":{"field":"f","type":"quantitative"},"y":{"field":"h","type":"quantitative"},"text":{"field":"t"}}},
{"data":{"name":"arrows"},"mark":{"type":"line","color":"#000","strokeWidth":3},"encoding":{"x":{"field":"f","type":"quantitative"},"y":{"field":"h","type":"quantitative"},"detail":{"field":"a"},"order":{"field":"o"}}}
]},
{"width":86,"height":656,"layer":[
{"data":{"name":"modes"},"mark":{"type":"rect"},"encoding":{"x":{"datum":0,"type":"quantitative","scale":{"domain":[0,1],"range":[10,75]},"axis":null},"x2":{"datum":1},"y":{"field":"m","type":"nominal","sort":null,"scale":{"range":[-1,379],"paddingInner":0.06,"paddingOuter":0},"axis":null},"color":{"field":"m","type":"nominal","legend":null,"scale":{"domain":["NoVal","O-4","O-3","O-2","O-1","O+1","O+2","O+3","O+4","Xv-","Xv+","Xq+","Xq-","Oq+","Oq-"],"range":["#8c8c8c","#22d8ff","#40a8ff","#a9259b","#ff429f","#ff2729","#ff7000","#ffbc5f","#f4b3ab","#0e7a0a","#84b15a","#d9d900","#f7f5a8","#1424e8","#b4b4b4"]}}}},
{"data":{"name":"modes"},"mark":{"type":"text","align":"left","baseline":"middle","font":"Liberation Mono","fontWeight":"bold","fontSize":21,"color":"#fff"},"encoding":{"x":{"datum":0.02,"type":"quantitative"},"y":{"field":"m","type":"nominal","sort":null},"text":{"field":"m"}}}
]},
{"width":268,"height":114,"layer":[
{"data":{"name":"footer"},"mark":{"type":"text","align":"left","baseline":"middle","font":"DejaVu Sans Mono","fontSize":18.8,"color":"#222"},"encoding":{"x":{"datum":0,"type":"quantitative","scale":{"domain":[0,1],"range":[10,268]},"axis":null},"y":{"field":"r","type":"quantitative","scale":{"domain":[0,2],"range":[61,102]},"axis":null},"text":{"field":"t"}}},
{"data":{"values":[{"r":2,"t":"73027311.tmp / 180fx256h 50 kHz 2.5 km / DPS-4 JR055 055 / 54.6 N 13.4 E"}]},"mark":{"type":"text","align":"left","baseline":"middle","font":"DejaVu Sans Mono","fontSize":16.4,"color":"#222"},"encoding":{"x":{"datum":0,"type":"quantitative"},"y":{"field":"r","type":"quantitative"},"text":{"field":"t"}}}
]},
{"width":784,"height":114,"data":{"values":[{"a":""}]},"mark":{"type":"text"},"encoding":{"text":{"field":"a"}}},
{"width":86,"height":114,"data":{"values":[{"r":2,"t":"ShowIonogram v 1.0"}]},"mark":{"type":"text","align":"right","baseline":"middle","font":"DejaVu Sans Mono","fontSize":16.4,"color":"#222"},"encoding":{"x":{"datum":1,"type":"quantitative","scale":{"domain":[0,1],"range":[0,80]},"axis":null},"y":{"field":"r","type":"quantitative","scale":{"domain":[0,2],"range":[61,102]},"axis":null},"text":{"field":"t"}}}
]}
